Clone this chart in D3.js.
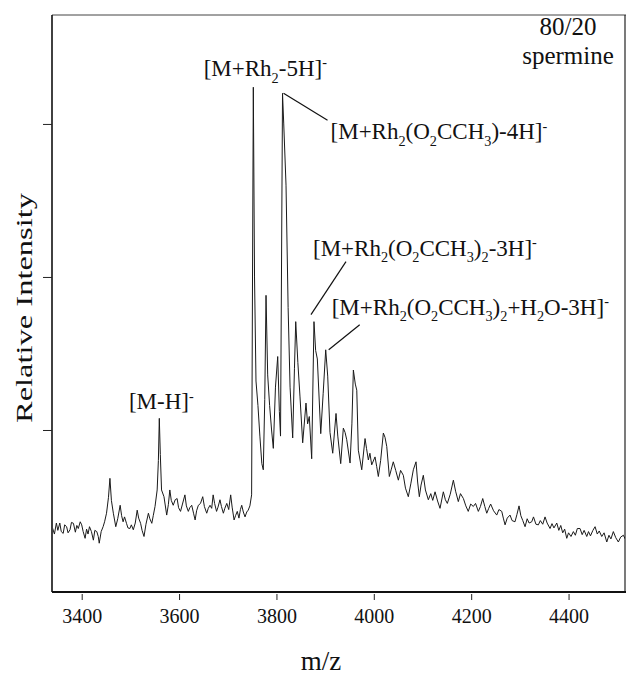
<!DOCTYPE html>
<html><head><meta charset="utf-8">
<script src="https://cdn.jsdelivr.net/npm/d3@7/dist/d3.min.js"></script>
<style>
html,body{margin:0;padding:0;background:#fff;}
svg text{font-family:"Liberation Serif","Times New Roman",serif;fill:#111;}
</style></head>
<body><svg id="c" width="628" height="675"></svg>
<script>
// ---- data ----
const xTicks = [3400, 3600, 3800, 4000, 4200, 4400];
const yTicks = [25, 50, 75];
const xTitle = "m/z";
const yTitle = "Relative Intensity";
const sampleLine1 = "80/20";
const sampleLine2 = "spermine";
// [m/z, relative intensity]
const spectrum = [
[3340,9.0],[3344,8.0],[3348,9.8],[3351,8.6],[3355,9.8],[3358,8.4],[3362,8.1],[3365,9.5],[3369,9.2],[3372,8.2],
[3376,8.7],[3379,9.9],[3383,9.75],[3387,8.3],[3390,9.4],[3393,8.9],[3397,10.0],[3400,9.5],[3403,8.4],[3407,7.3],
[3410,8.8],[3413,8.0],[3416,9.2],[3420,8.4],[3424,7.0],[3427,8.6],[3431,8.4],[3434,7.6],[3436,6.5],[3440,8.4],
[3444,9.2],[3447,10.0],[3451,11.4],[3455,14.0],[3458,17.1],[3461,13.5],[3465,11.4],[3470,9.2],[3474,10.5],[3479,12.7],
[3482,11.0],[3485,10.0],[3488,10.8],[3492,9.75],[3495,9.0],[3499,8.9],[3502,9.5],[3506,8.7],[3510,9.8],[3514,11.9],
[3517,10.6],[3521,9.75],[3524,8.6],[3528,7.6],[3532,9.6],[3537,11.4],[3540,10.5],[3544,9.75],[3547,11.0],[3550.6,12.5],
[3555,15.2],[3557.5,20],[3559.4,26.9],[3561.5,21],[3564,15.2],[3569,14.1],[3574.6,11.1],[3578,12.8],[3581,15.2],[3584,13.5],
[3588,12.7],[3592,13.6],[3596,13.8],[3599,12.3],[3603,11.7],[3607,12.9],[3612,14.4],[3615,12.6],[3619,11.7],[3622,12.3],
[3626,12.7],[3630,11.3],[3633,10.3],[3636,11.8],[3639.6,12.7],[3644,13.0],[3648.6,14.1],[3652,12.5],[3656.8,11.4],[3660,12.2],
[3663.6,12.7],[3667,12.2],[3670,14.4],[3673,13.0],[3677,11.7],[3680,12.4],[3684,13.6],[3687,12.5],[3691,11.4],[3694,12.2],
[3698,13.0],[3702,12.0],[3706,14.4],[3709,12.4],[3713,10.3],[3716,11.0],[3719.6,11.7],[3723,10.6],[3726,12.0],[3728.7,12.7],
[3732,11.6],[3735.5,10.8],[3739,11.6],[3742,11.9],[3745.5,12.6],[3749,14.4],
[3752.5,81],[3755,50],[3758,33],[3762,29],[3766,24],[3770,19.5],[3773,18.5],[3776,30],[3778.6,47],[3782,34],
[3786,29],[3790,25],[3793.6,22],[3798,32],[3802.6,37],[3806,28],[3808.4,24],[3812.5,80],[3815,75],[3819.7,65],
[3824,45],[3828,32],[3833.4,23.7],[3837,35],[3839.6,42.7],[3844,36],[3848.4,30.4],[3853.9,22.9],[3860.7,29.4],[3864,26],
[3867.5,27.2],[3872.4,20.3],[3877.1,42.7],[3880.5,38],[3884,36.6],[3891,24.4],[3896,31],[3901.2,38.1],[3905.3,33.8],[3910,24.6],
[3915.6,21.2],[3922.4,27.7],[3926,24],[3932,19.5],[3937.4,25.3],[3941,24.6],[3944.4,23.4],[3951.2,19.6],[3955,26],[3958,34.8],
[3962,32.5],[3965,31.5],[3968.2,21.7],[3975.2,18.5],[3982,23.6],[3985,22],[3988.8,20.1],[3992,21.2],[3995.7,19.3],[4002.5,20.6],
[4006,19],[4009.3,17.4],[4014,20],[4019.6,24.5],[4023,23.8],[4026.6,22.3],[4031.9,17.4],[4036,18.6],[4040,19.8],[4045,18.4],
[4050.4,16.8],[4055,18.4],[4060.6,17.6],[4065,15.5],[4070.9,14.1],[4076,16.2],[4081.2,18.5],[4086.7,19.8],[4090,16.5],[4093.5,14.1],
[4097,16],[4101.7,17.6],[4106,15.2],[4112,13.6],[4117,14.6],[4121,13.5],[4125.8,14.9],[4131,13.4],[4136,12.2],[4142.8,14.9],
[4147,13.6],[4151,13.0],[4157,14.5],[4163.4,16.8],[4168,15.0],[4173.6,13.3],[4178,14.6],[4184,13.8],[4189,12.6],[4194,11.7],
[4199,12.9],[4204.4,12.5],[4209,13.0],[4214.7,11.7],[4219,12.5],[4223.7,13.8],[4228,12.5],[4232,11.4],[4236,12.2],[4240,12.9],
[4246,11.8],[4252.5,11.1],[4257,12.0],[4262.8,11.7],[4266,10.6],[4269.6,9.5],[4274,10.6],[4279.8,11.1],[4284,10.2],[4290,10.0],
[4294,11.2],[4298.3,12.6],[4302,11.0],[4306,10.2],[4310.7,9.2],[4315,10.5],[4319,9.8],[4324.4,10.0],[4328,10.8],[4333,9.6],
[4338,9.5],[4342,10.2],[4347,9.6],[4351.7,10.8],[4356,9.8],[4362,8.9],[4366,9.7],[4370,9.0],[4375.8,9.8],[4380,8.6],
[4384,9.4],[4388,8.2],[4392,8.8],[4396.3,7.3],[4400,8.2],[4405,7.6],[4409.9,8.4],[4414,7.8],[4418,8.9],[4423.6,8.9],
[4428,7.9],[4432,8.6],[4437.4,7.6],[4441,8.4],[4445,7.7],[4450,8.6],[4454.5,9.2],[4459,8.0],[4463,8.5],[4468.2,7.6],
[4473,8.2],[4478.5,6.7],[4483,7.8],[4487,7.2],[4492,8.4],[4497,7.4],[4502.3,6.7],[4507,7.5],[4512.6,7.8],[4517,7.1],[4521,7.3]
];
// annotated peaks (m/z) and their label texts: [text, mode]
const peakMz = [3559.4, 3752.5, 3812.5, 3877.1, 3901.2];
const labelMH   = [["[M-H]",""],["-","sup"]];
const labelRh5H = [["[M+Rh",""],["2","sub"],["-5H]",""],["-","sup"]];
const labelAc4H = [["[M+Rh",""],["2","sub"],["(O",""],["2","sub"],["CCH",""],["3","sub"],[")-4H]",""],["-","sup"]];
const labelAc3H = [["[M+Rh",""],["2","sub"],["(O",""],["2","sub"],["CCH",""],["3","sub"],[")",""],["2","sub"],["-3H]",""],["-","sup"]];
const labelAcW  = [["[M+Rh",""],["2","sub"],["(O",""],["2","sub"],["CCH",""],["3","sub"],[")",""],["2","sub"],["+H",""],["2","sub"],["O-3H]",""],["-","sup"]];

// ---- drawing ----
const svg = d3.select("#c");
const L = 52, R = 626, T = 15, B = 592;
const x = d3.scaleLinear().domain([3339, 4518]).range([L, R]);
const y = d3.scaleLinear().domain([-1.47, 92.8]).range([B, T]);

svg.append("defs").append("clipPath").attr("id","clip")
  .append("rect").attr("x",L+1).attr("y",T).attr("width",R-L-2).attr("height",B-T);

svg.append("path").datum(spectrum)
  .attr("clip-path","url(#clip)")
  .attr("fill","none").attr("stroke","#1a1a1a").attr("stroke-width",1)
  .attr("stroke-linejoin","round")
  .attr("d", d3.line().x(d=>x(d[0])).y(d=>y(d[1])));

// frame
svg.append("line").attr("x1",L).attr("x2",R).attr("y1",T).attr("y2",T).attr("stroke","#444").attr("stroke-width",1);
svg.append("line").attr("x1",R-1).attr("x2",R-1).attr("y1",T).attr("y2",B).attr("stroke","#222").attr("stroke-width",1.2);

const xAxis = svg.append("g").attr("transform",`translate(0,${B})`)
  .call(d3.axisBottom(x).tickValues(xTicks).tickSize(8).tickPadding(5).tickFormat(d3.format("d")));
xAxis.select(".domain").attr("stroke","#111").attr("stroke-width",2).attr("d",`M${L},0H${R}`);
xAxis.selectAll(".tick line").attr("stroke","#222").attr("stroke-width",1).attr("y1",2);
xAxis.selectAll(".tick text").attr("font-size",20).attr("fill","#111")
  .attr("font-family","Liberation Serif").attr("dy","0.9em");

const yAxis = svg.append("g").attr("transform",`translate(${L},0)`)
  .call(d3.axisLeft(y).tickValues(yTicks).tickSize(9).tickFormat(""));
yAxis.select(".domain").attr("stroke","#111").attr("stroke-width",1.6).attr("d",`M0,${T}V${B}`);
yAxis.selectAll(".tick line").attr("stroke","#222").attr("stroke-width",1);

svg.append("text").attr("x",(x(3800)+x(4000))/2 - 4).attr("y",670).attr("text-anchor","middle")
  .attr("font-size",27).text(xTitle);
svg.append("text").attr("transform","translate(32,308) rotate(-90)").attr("text-anchor","middle")
  .attr("font-size",24).attr("textLength",230).attr("lengthAdjust","spacingAndGlyphs").text(yTitle);

svg.append("text").attr("x",568).attr("y",35).attr("text-anchor","middle").attr("font-size",25).text(sampleLine1);
svg.append("text").attr("x",568).attr("y",64).attr("text-anchor","middle").attr("font-size",25).text(sampleLine2);

function richText(parts, px, py, anchor, size){
  const t = svg.append("text").attr("x",px).attr("y",py).attr("text-anchor",anchor).attr("font-size",size);
  let shift = 0;
  parts.forEach(([s,mode])=>{
    const target = mode==="sub" ? size*0.28 : mode==="sup" ? -size*0.38 : 0;
    t.append("tspan").attr("dy", target - shift)
      .attr("font-size", mode ? size*0.62 : size).text(s);
    shift = target;
  });
  return t;
}
function peakPt(mz){
  const p = spectrum.find(d=>d[0]===mz);
  return [x(p[0]), y(p[1])];
}
const fs = 23;
const [p0x,p0y] = peakPt(peakMz[0]);
richText(labelMH, p0x+2, p0y-9, "middle", fs);
const [p1x,p1y] = peakPt(peakMz[1]);
richText(labelRh5H, p1x+12, p1y-11, "middle", fs);
const [p2x,p2y] = peakPt(peakMz[2]);
svg.append("line").attr("x1",p2x+1).attr("y1",p2y).attr("x2",p2x+45).attr("y2",p2y+27).attr("stroke","#111").attr("stroke-width",1.2);
richText(labelAc4H, p2x+48, p2y+46, "start", fs);
const [p3x,p3y] = peakPt(peakMz[3]);
svg.append("line").attr("x1",p3x-3).attr("y1",p3y-7).attr("x2",p3x+32).attr("y2",p3y-60).attr("stroke","#111").attr("stroke-width",1.2);
richText(labelAc3H, p3x-1, p3y-66, "start", fs);
const [p4x,p4y] = peakPt(peakMz[4]);
svg.append("line").attr("x1",p4x+3).attr("y1",p4y).attr("x2",p4x+34).attr("y2",p4y-25).attr("stroke","#111").attr("stroke-width",1.2);
richText(labelAcW, p4x+6, p4y-35, "start", fs);
</script></body></html>
